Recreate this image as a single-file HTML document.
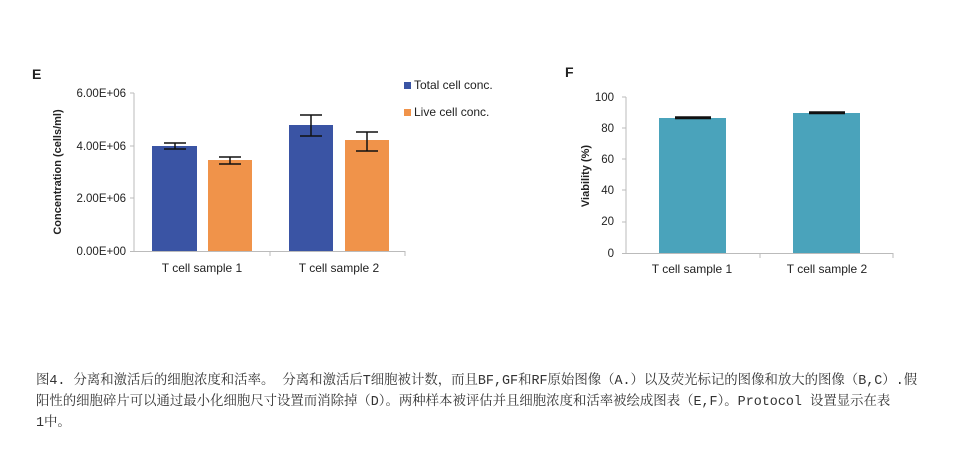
<!DOCTYPE html><html><head><meta charset="utf-8"><style>
body{margin:0;width:963px;height:450px;background:#fff;overflow:hidden;position:relative;font-family:"Liberation Sans",sans-serif}
.cap{position:absolute;left:36px;top:371px;font-family:"Liberation Mono","Noto Serif CJK SC",monospace;font-size:13.4px;line-height:21px;color:#333;white-space:nowrap}
</style></head><body>
<svg width="963" height="360" style="position:absolute;left:0;top:0" font-family="Liberation Sans, sans-serif">
<text x="32" y="79" font-size="14" font-weight="bold" fill="#222">E</text>
<g font-size="11.5" fill="#222" text-anchor="end">
<text x="126" y="97">6.00E+06</text><text x="126" y="150">4.00E+06</text><text x="126" y="202">2.00E+06</text><text x="126" y="255">0.00E+00</text></g>
<line x1="134" y1="93" x2="134" y2="252" stroke="#bbb"/>
<line x1="130" y1="93" x2="134" y2="93" stroke="#bbb"/><line x1="130" y1="146" x2="134" y2="146" stroke="#bbb"/><line x1="130" y1="198" x2="134" y2="198" stroke="#bbb"/>
<line x1="130" y1="251.5" x2="405" y2="251.5" stroke="#bbb"/><line x1="270" y1="251" x2="270" y2="256" stroke="#bbb"/><line x1="405" y1="251" x2="405" y2="256" stroke="#bbb"/>
<rect x="152" y="146" width="45" height="105" fill="#3a54a4"/>
<rect x="208" y="160" width="44" height="91" fill="#f0934a"/>
<rect x="289" y="125" width="44" height="126" fill="#3a54a4"/>
<rect x="345" y="140" width="44" height="111" fill="#f0934a"/>
<g stroke="#111" stroke-width="1.5" fill="none">
<path d="M164 143H186M175 143V149M164 149H186"/>
<path d="M219 157H241M230 157V164M219 164H241"/>
<path d="M300 115H322M311 115V136M300 136H322"/>
<path d="M356 132H378M367 132V151M356 151H378"/></g>
<g font-size="12" fill="#222" text-anchor="middle"><text x="202" y="272">T cell sample 1</text><text x="339" y="272">T cell sample 2</text></g>
<text transform="translate(61,172) rotate(-90)" font-size="11" font-weight="bold" fill="#222" text-anchor="middle">Concentration (cells/ml)</text>
<rect x="404" y="82" width="7" height="7" fill="#3a54a4"/><text x="414" y="89" font-size="12" fill="#222">Total cell conc.</text>
<rect x="404" y="109" width="7" height="7" fill="#f0934a"/><text x="414" y="116" font-size="12" fill="#222">Live cell conc.</text>
<text x="565" y="77" font-size="14" font-weight="bold" fill="#222">F</text>
<g font-size="11.5" fill="#222" text-anchor="end">
<text x="614" y="101">100</text><text x="614" y="132">80</text><text x="614" y="163">60</text><text x="614" y="194">40</text><text x="614" y="225">20</text><text x="614" y="257">0</text></g>
<line x1="626" y1="97" x2="626" y2="253" stroke="#bbb"/>
<g stroke="#bbb"><line x1="622" y1="97" x2="626" y2="97"/><line x1="622" y1="128" x2="626" y2="128"/><line x1="622" y1="159" x2="626" y2="159"/><line x1="622" y1="190" x2="626" y2="190"/><line x1="622" y1="222" x2="626" y2="222"/></g>
<line x1="622" y1="253.5" x2="893" y2="253.5" stroke="#bbb"/><line x1="760" y1="253" x2="760" y2="258" stroke="#bbb"/><line x1="893" y1="253" x2="893" y2="258" stroke="#bbb"/>
<rect x="659" y="118" width="67" height="135" fill="#4aa3bb"/>
<rect x="793" y="113" width="67" height="140" fill="#4aa3bb"/>
<g stroke="#111" stroke-width="1.5"><path d="M675 117H711M675 118.5H711"/><path d="M809 112H845M809 113.5H845"/></g>
<g font-size="12" fill="#222" text-anchor="middle"><text x="692" y="273">T cell sample 1</text><text x="827" y="273">T cell sample 2</text></g>
<text transform="translate(589,176) rotate(-90)" font-size="11" font-weight="bold" fill="#222" text-anchor="middle">Viability (%)</text>
</svg>
<div class="cap">图4. 分离和激活后的细胞浓度和活率。 分离和激活后T细胞被计数，而且BF,GF和RF原始图像（A.）以及荧光标记的图像和放大的图像（B,C）.假<br>阳性的细胞碎片可以通过最小化细胞尺寸设置而消除掉（D）。两种样本被评估并且细胞浓度和活率被绘成图表（E,F）。Protocol 设置显示在表<br>1中。</div>
</body></html>
